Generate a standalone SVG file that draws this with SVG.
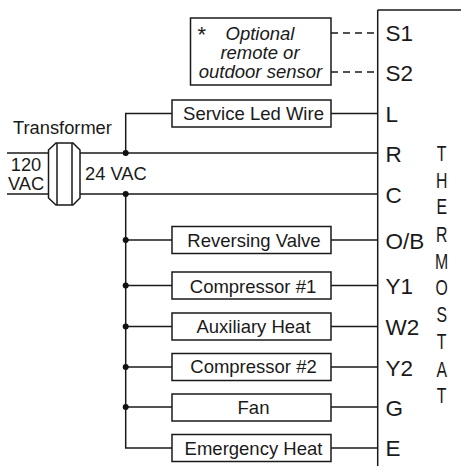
<svg xmlns="http://www.w3.org/2000/svg" width="461" height="466" viewBox="0 0 461 466">
<style>
text{font-family:"Liberation Sans",Arial,sans-serif;fill:#1a1a1a}
.w{fill:none;stroke:#1a1a1a;stroke-width:1.5}
.d{stroke-dasharray:7 5}
.b{fill:#fff;stroke:#1a1a1a;stroke-width:1.5}
.l{font-size:18.500px;text-anchor:middle}
.t{font-size:22.500px}
.v{font-size:22px;text-anchor:middle}
.s{font-size:18.500px;font-style:italic;text-anchor:middle}
.h{font-size:18.300px}
.dot{fill:#111}
</style>
<g id="connectors">
<path class="w" d="M377.7 10V466M377.7 10H461"/>
<path class="w d" d="M331 33H377.7M331 72H377.7"/>
<path class="w" d="M125.7 153V113.5H172M331 113.5H377.7"/>
<path class="w" d="M7 153H48M80 153H377.7M7 194H48M80 194H377.7"/>
<path class="w" d="M125.7 194V448H172M125.7 240H172M125.7 285.5H172M125.7 326.5H172M125.7 367H172M125.7 407H172"/>
<path class="w" d="M331 240H377.7M331 285.5H377.7M331 326.5H377.7M331 367H377.7M331 407H377.7M331 448H377.7"/>
<circle class="dot" cx="125.7" cy="153" r="3"/><circle class="dot" cx="125.7" cy="194" r="3"/>
<circle class="dot" cx="125.7" cy="240" r="3"/><circle class="dot" cx="125.7" cy="285.5" r="3"/>
<circle class="dot" cx="125.7" cy="326.5" r="3"/><circle class="dot" cx="125.7" cy="367" r="3"/>
<circle class="dot" cx="125.7" cy="407" r="3"/>
</g>
<g id="transformer">
<path class="b" d="M48.5 150L56 143H73L80 150V198L73 205H56L48.5 198Z"/>
<path class="w" d="M57 143V205M72 143V205"/>
<text class="h" x="13" y="134">Transformer</text>
<text class="h" x="26" y="171" text-anchor="middle">120</text>
<text class="h" x="26" y="190" text-anchor="middle">VAC</text>
<text class="h" x="85" y="180">24 VAC</text>
</g>
<g id="sensor">
<rect class="b" x="190.500" y="18" width="140.500" height="67"/>
<text x="197.500" y="42" font-size="22">*</text>
<text class="s" x="260" y="39.500">Optional</text>
<text class="s" x="260" y="58.500">remote or</text>
<text class="s" x="260.500" y="77.500">outdoor sensor</text>
</g>
<g id="service-led"><rect class="b" x="172" y="100" width="159" height="27"/><text class="l" x="253.500" y="120">Service Led Wire</text></g>
<g id="reversing-valve"><rect class="b" x="172" y="226.500" width="159" height="27"/><text class="l" x="254" y="247">Reversing Valve</text></g>
<g id="compressor-1"><rect class="b" x="172" y="272" width="159" height="27"/><text class="l" x="253" y="292.500">Compressor #1</text></g>
<g id="auxiliary-heat"><rect class="b" x="172" y="313" width="159" height="27"/><text class="l" x="253.500" y="333">Auxiliary Heat</text></g>
<g id="compressor-2"><rect class="b" x="172" y="353.500" width="159" height="27"/><text class="l" x="253.500" y="373">Compressor #2</text></g>
<g id="fan"><rect class="b" x="172" y="394" width="159" height="27"/><text class="l" x="253.500" y="414">Fan</text></g>
<g id="emergency-heat"><rect class="b" x="172" y="434.500" width="159" height="27"/><text class="l" x="253.500" y="455">Emergency Heat</text></g>
<g id="thermostat">
<text class="t" x="385.500" y="41">S1</text><text class="t" x="385.500" y="81">S2</text><text class="t" x="385.500" y="122">L</text>
<text class="t" x="385.500" y="162">R</text><text class="t" x="385.500" y="203">C</text><text class="t" x="385.500" y="249">O/B</text>
<text class="t" x="385.500" y="294">Y1</text><text class="t" x="385.500" y="335">W2</text><text class="t" x="385.500" y="375.500">Y2</text>
<text class="t" x="385.500" y="415.500">G</text><text class="t" x="385.500" y="456">E</text>
<g transform="translate(441.700 0) scale(.72 1)">
<text class="v" x="0" y="160.700">T</text><text class="v" x="0" y="188">H</text><text class="v" x="0" y="214">E</text>
<text class="v" x="0" y="241.700">R</text><text class="v" x="0" y="269">M</text><text class="v" x="0" y="295">O</text>
<text class="v" x="0" y="321.700">S</text><text class="v" x="0" y="349">T</text><text class="v" x="0" y="376.700">A</text><text class="v" x="0" y="403">T</text>
</g>
</g>
</svg>
